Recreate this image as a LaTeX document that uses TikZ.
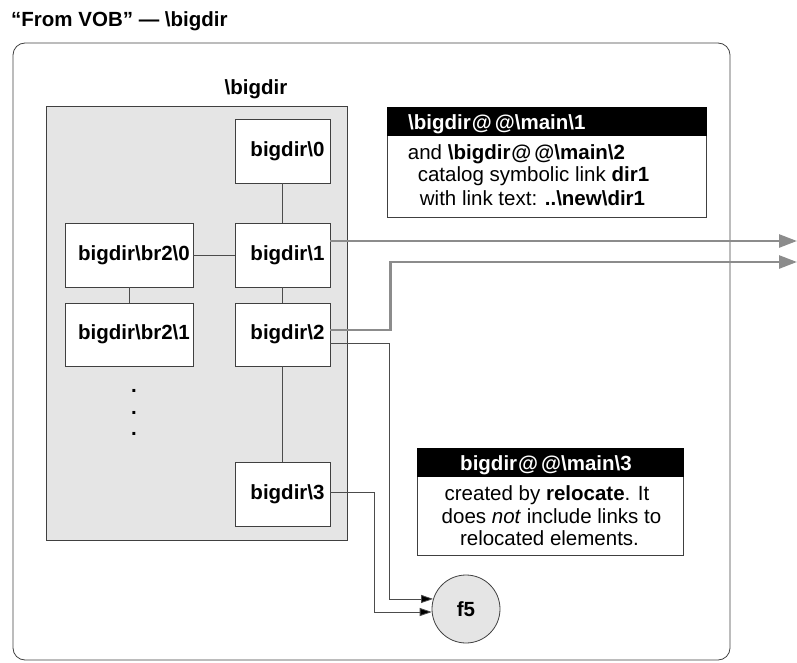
\documentclass[tikz,border=0pt]{standalone}
\usepackage{fontspec}
\setmainfont{Liberation Sans}
\usetikzlibrary{arrows.meta,calc}
\newcommand{\bksl}{\textbackslash}
\newcommand{\fs}{\fontsize{20.5}{21}\selectfont}
\newcommand{\shiftr}{\kern10pt}
\begin{document}
\begin{tikzpicture}[x=1pt,y=-1pt,
  every node/.style={font=\fs, inner sep=0pt},
  dirbox/.style={draw=black!75, fill=white, line width=0.8pt, minimum width=95pt, minimum height=64pt, font=\fs\bfseries},
  brbox/.style={dirbox, minimum width=128pt},
  link/.style={draw=black!70, line width=0.8pt},
  grayarrow/.style={draw=black!45, line width=2.6pt, -{Triangle[length=18pt,width=13pt]}},
  blackarrow/.style={draw=black!70, line width=0.8pt, -{Triangle[length=12pt,width=8pt,fill=black]}},
  callout/.style={draw=black!75, line width=0.8pt, fill=white},
  header/.style={fill=black, draw=black},
  headtext/.style={text=white, font=\fs\bfseries},
  bodytext/.style={font=\fs, anchor=base},
  dotmark/.style={font=\fs\bfseries}
]
\useasboundingbox (0,0) rectangle (797,663);

% title
\node[anchor=base west, font=\fs\bfseries] (title) at (11,27) {“From VOB” — \bksl bigdir};

% outer frame
\draw[black!75, line width=0.8pt, rounded corners=12pt] (13,43) rectangle (730,660);

% gray directory box
\node[anchor=base, font=\fs\bfseries] (biglabel) at (256,95) {\bksl bigdir};
\draw[black!75, fill=black!10, line width=0.8pt] (46,106) rectangle (347,540);

% nodes
\node[dirbox] (b0) at (282.5,151) {\shiftr bigdir\bksl 0};
\node[dirbox] (b1) at (282.5,255) {\shiftr bigdir\bksl 1};
\node[dirbox, minimum height=63pt] (b2) at (282.5,334.5) {\shiftr bigdir\bksl 2};
\node[dirbox] (b3) at (282.5,494) {\shiftr bigdir\bksl 3};
\node[brbox] (br0) at (129,255) {\shiftr bigdir\bksl br2\bksl 0};
\node[brbox, minimum height=63pt] (br1) at (129,334.5) {\shiftr bigdir\bksl br2\bksl 1};

% dots
\node[dotmark] (d1) at (134,391) {.};
\node[dotmark] (d2) at (134,413) {.};
\node[dotmark] (d3) at (134,434) {.};

% tree links
\path[link] (b0.south) -- (b1.north);
\path[link] (b1.south) -- (b2.north);
\path[link] (b2.south) -- (b3.north);
\path[link] (br0.east) -- (b1.west);
\path[link] (br0.south) -- (br1.north);

% f5 element
\node[circle, draw=black!75, fill=black!10, line width=0.8pt, minimum size=68pt, font=\fs\bfseries] (f5) at (466,609) {f5};

% black arrows to f5
\path[blackarrow] ([yshift=-8.5pt]b2.east) -- ++(59,0) |- (f5.163);
\path[blackarrow] ([yshift=2pt]b3.east) -- ++(43.5,0) |- (f5.185);

% gray arrows leaving the VOB
\coordinate (out1) at (797,241);
\coordinate (out2) at (797,262);
\path[grayarrow] ([yshift=14pt]b1.east) -- (out1);
\path[grayarrow] ([yshift=4.5pt]b2.east) -- ++(60,0) |- (out2);

% callout 1
\draw[callout] (387,107) rectangle (706,217);
\fill[header] (387,107) rectangle (706,135);
\node[headtext, anchor=base west] (h1) at (408,130) {\bksl bigdir\kern1pt@\kern3pt@\bksl main\bksl 1};
\node[bodytext] (c1a) at (516.5,160) {and \textbf{\bksl bigdir\kern1pt@\kern3pt@\bksl main\bksl 2}};
\node[bodytext] (c1b) at (533.5,182) {catalog symbolic link \textbf{dir1}};
\node[bodytext] (c1c) at (532.5,205) {with link text: \textbf{..\bksl new\bksl dir1}};

% callout 2
\draw[callout] (417,448) rectangle (683,555);
\fill[header] (417,448) rectangle (683,476);
\node[headtext, anchor=base] (h2) at (546,470) {bigdir\kern1pt@\kern3pt@\bksl main\bksl 3};
\node[bodytext] (c2a) at (547,500) {created by \textbf{relocate}. It};
\node[bodytext] (c2b) at (551.5,523) {does \textit{not} include links to};
\node[bodytext] (c2c) at (549.5,545) {relocated elements.};
\end{tikzpicture}
\end{document}
